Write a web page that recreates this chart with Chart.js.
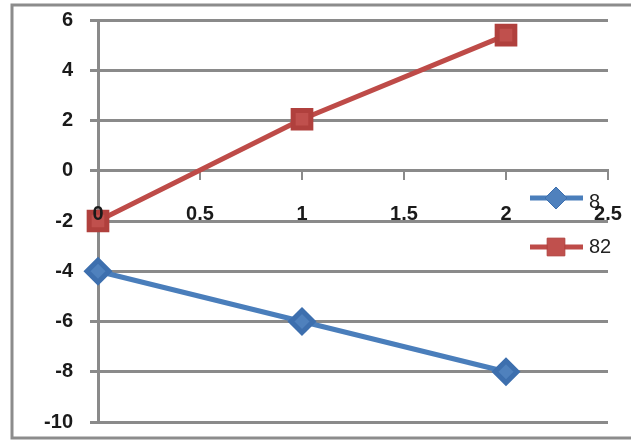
<!DOCTYPE html>
<html>
<head>
<meta charset="utf-8">
<script src="https://cdn.jsdelivr.net/npm/chart.js@4.4.1/dist/chart.umd.min.js"></script>
<style>
  html, body { margin: 0; padding: 0; background: #fff; }
  #wrap { width: 631px; height: 441px; }
</style>
</head>
<body>
<div id="wrap"><canvas id="chart" width="631" height="441"></canvas></div>
<script>
// values
const xValues = [0, 1, 2];
const series8 = [-4, -6, -8];
const series82 = [-2, 2.05, 5.4];
const seriesNames = ['8', '82'];
const xTickValues = [0, 0.5, 1, 1.5, 2, 2.5];
const yTickValues = [-10, -8, -6, -4, -2, 0, 2, 4, 6];

const gridColor = '#8a8a8a';
const labelFont = { family: '"Liberation Sans", Arial, sans-serif', size: 20, weight: 'bold' };

function toPoints(ys) {
  return xValues.map((x, i) => ({ x: x, y: ys[i] }));
}

// grey frame of the chart object, runs off the right edge
const framePlugin = {
  id: 'frame',
  beforeDraw(chart) {
    const ctx = chart.ctx;
    ctx.save();
    ctx.fillStyle = '#fff';
    ctx.fillRect(0, 0, chart.width, chart.height);
    ctx.strokeStyle = '#8c8c8c';
    ctx.lineWidth = 3;
    ctx.strokeRect(12, 5, chart.width + 20, 433);
    ctx.restore();
  }
};

// legend sitting inside the plot at the right, like the Excel original
const legendPlugin = {
  id: 'sideLegend',
  afterDatasetsDraw(chart) {
    const ctx = chart.ctx;
    const rows = [198, 247];
    ctx.save();
    chart.data.datasets.forEach((ds, i) => {
      const y = rows[i];
      ctx.strokeStyle = ds.borderColor;
      ctx.lineWidth = ds.borderWidth;
      ctx.beginPath();
      ctx.moveTo(530, y);
      ctx.lineTo(583, y);
      ctx.stroke();
      ctx.fillStyle = ds.pointBackgroundColor;
      ctx.strokeStyle = ds.pointBorderColor;
      ctx.lineWidth = 1;
      Chart.helpers.drawPoint(ctx, { pointStyle: ds.pointStyle, radius: ds.pointRadius, rotation: 0, borderWidth: 1 }, 556, y);
      ctx.fillStyle = '#222';
      ctx.font = '20px "Liberation Sans", Arial, sans-serif';
      ctx.textAlign = 'left';
      ctx.textBaseline = 'middle';
      ctx.fillText(ds.label, 589, y + (i === 0 ? 4 : 0));
    });
    ctx.restore();
  }
};

const ctx = document.getElementById('chart');
Chart.defaults.color = '#1a1a1a';

new Chart(ctx, {
  type: 'scatter',
  data: {
    datasets: [{
      label: seriesNames[0],
      data: toPoints(series8),
      showLine: true,
      borderColor: '#4a7ebb',
      borderWidth: 5,
      pointStyle: 'rectRot',
      pointRadius: 11,
      pointHoverRadius: 11,
      pointBackgroundColor: '#4f81bd',
      pointBorderColor: '#3d6fae',
      clip: false
    }, {
      label: seriesNames[1],
      data: toPoints(series82),
      showLine: true,
      borderColor: '#be4b48',
      borderWidth: 5,
      pointStyle: 'rect',
      pointRadius: 12.5,
      pointHoverRadius: 12.5,
      pointBackgroundColor: '#c0504d',
      pointBorderColor: '#b0403d',
      clip: false
    }]
  },
  options: {
    responsive: false,
    animation: false,
    events: [],
    layout: { padding: { left: 0, right: 23, top: 20, bottom: 19 } },
    plugins: {
      legend: { display: false },
      tooltip: { enabled: false }
    },
    scales: {
      x: {
        type: 'linear',
        position: { y: 0 },
        min: 0,
        max: 2.5,
        afterBuildTicks: scale => { scale.ticks = xTickValues.map(v => ({ value: v })); },
        afterFit: scale => { scale.paddingLeft = 0; scale.paddingRight = 0; },
        grid: { drawOnChartArea: false, drawTicks: true, tickLength: 8, color: gridColor, lineWidth: 2 },
        border: { display: true, color: gridColor, width: 3 },
        ticks: { z: 1, font: labelFont, padding: 24, maxRotation: 0, autoSkip: false, callback: v => String(v) }
      },
      y: {
        type: 'linear',
        min: -10,
        max: 6,
        afterFit: scale => { scale.width = 98; scale.paddingTop = 0; scale.paddingBottom = 0; },
        afterBuildTicks: scale => { scale.ticks = yTickValues.map(v => ({ value: v })); },
        grid: { drawOnChartArea: true, drawTicks: true, tickLength: 8, color: gridColor, lineWidth: 3 },
        border: { display: true, color: gridColor, width: 3 },
        ticks: { font: labelFont, padding: 17, autoSkip: false, callback: v => String(v) }
      }
    }
  },
  plugins: [framePlugin, legendPlugin]
});
</script>
</body>
</html>
